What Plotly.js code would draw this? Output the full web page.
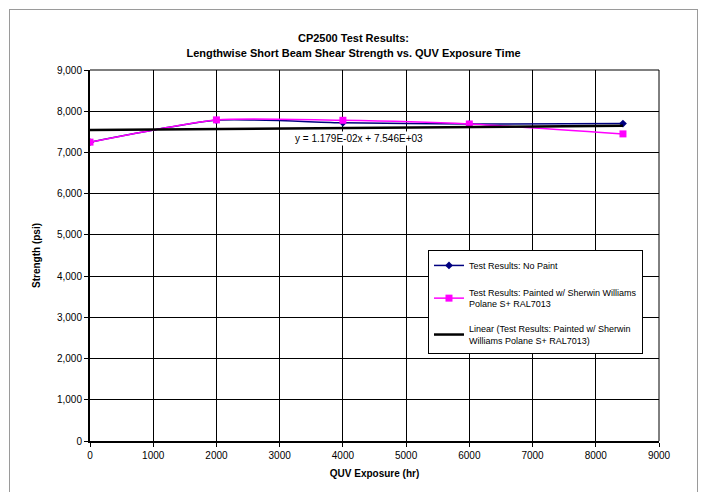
<!DOCTYPE html>
<html>
<head>
<meta charset="utf-8">
<script src="https://cdn.plot.ly/plotly-3.0.1.min.js"></script>
<style>
html,body{margin:0;padding:0;background:#fff;}
#frame{position:absolute;left:9px;top:9px;width:689px;height:500px;border:1px solid #9a9a9a;box-sizing:border-box;}
#chart{position:absolute;left:0;top:0;width:707px;height:492px;}
</style>
</head>
<body>
<div id="chart"></div>
<div id="frame"></div>
<script>
// Data
const exposureHours = [0, 2000, 4000, 6000, 8430];
const noPaintStrength = [7250, 7780, 7720, 7690, 7700];
const paintedStrength = [7250, 7790, 7780, 7690, 7450];
const trendSlope = 1.179e-2;
const trendIntercept = 7.546e3;
const trendLabel = 'y = 1.179E-02x + 7.546E+03';
const xTicks = [0,1000,2000,3000,4000,5000,6000,7000,8000,9000];
const yTicks = [0,1000,2000,3000,4000,5000,6000,7000,8000,9000];

const trendX = [exposureHours[0], exposureHours[exposureHours.length-1]];
const trendY = trendX.map(x => trendSlope*x + trendIntercept);

const font = 'Liberation Sans, Arial, sans-serif';

const traces = [
  {x: exposureHours, y: noPaintStrength, mode:'lines+markers', name:'Test Results: No Paint', legendgroup:'a',
   line:{color:'#000080', width:1.5, shape:'spline', smoothing:0.6}, marker:{symbol:'diamond', size:6, color:'#000080'}},
  {x: exposureHours, y: paintedStrength, mode:'lines+markers', name:'Test Results: Painted w/ Sherwin Williams<br>Polane S+ RAL7013', legendgroup:'b',
   line:{color:'#ff00ff', width:1.5, shape:'spline', smoothing:0.6}, marker:{symbol:'square', size:7, color:'#ff00ff'}},
  {x: trendX, y: trendY, mode:'lines', name:'Linear (Test Results: Painted w/ Sherwin<br>Williams Polane S+ RAL7013)', legendgroup:'c',
   line:{color:'#000000', width:2.5}}
];

const layout = {
  width:707, height:492,
  margin:{l:90, r:48, t:70, b:51},
  paper_bgcolor:'#ffffff', plot_bgcolor:'#ffffff',
  font:{family:font, size:10, color:'#000'},
  title:{text:'<b>CP2500 Test Results:<br>Lengthwise Short Beam Shear Strength vs. QUV Exposure Time</b>',
         font:{family:font, size:11, color:'#000'}, x:0.5, xanchor:'center', y:0.914, yanchor:'middle'},
  xaxis:{range:[0,9000], tickvals:xTicks, ticktext:xTicks.map(String), showgrid:true, gridcolor:'#000', gridwidth:1,
         zeroline:false, showline:true, linecolor:'#000', linewidth:2, mirror:false,
         ticks:'outside', ticklen:4, tickcolor:'#000',
         title:{text:'<b>QUV Exposure (hr)</b>', font:{family:font, size:10}, standoff:10}},
  yaxis:{range:[0,9000], tickvals:yTicks, ticktext:yTicks.map(v=>v.toLocaleString('en-US')), showgrid:true, gridcolor:'#000', gridwidth:1,
         zeroline:false, showline:true, linecolor:'#000', linewidth:2,
         ticks:'outside', ticklen:4, tickcolor:'#000',
         title:{text:'<b>Strength (psi)</b>', font:{family:font, size:10}, standoff:14}},
  shapes:[
    {type:'line', xref:'paper', yref:'paper', x0:1, x1:1, y0:0, y1:1, line:{color:'#000', width:1}},
    {type:'line', xref:'paper', yref:'paper', x0:0, x1:1, y0:1, y1:1, line:{color:'#000', width:1}}
  ],
  annotations:[
    {x:4250, y:7340, xref:'x', yref:'y', text:trendLabel, showarrow:false, bgcolor:'#ffffff',
     font:{family:font, size:10, color:'#000'}}
  ],
  legend:{x:0.594, y:0.515, xanchor:'left', yanchor:'top', bgcolor:'#ffffff', bordercolor:'#000', borderwidth:1,
          font:{family:font, size:9, color:'#000'}, tracegroupgap:10, itemwidth:30}
};

Plotly.newPlot('chart', traces, layout, {displayModeBar:false, staticPlot:true});
</script>
</body>
</html>
